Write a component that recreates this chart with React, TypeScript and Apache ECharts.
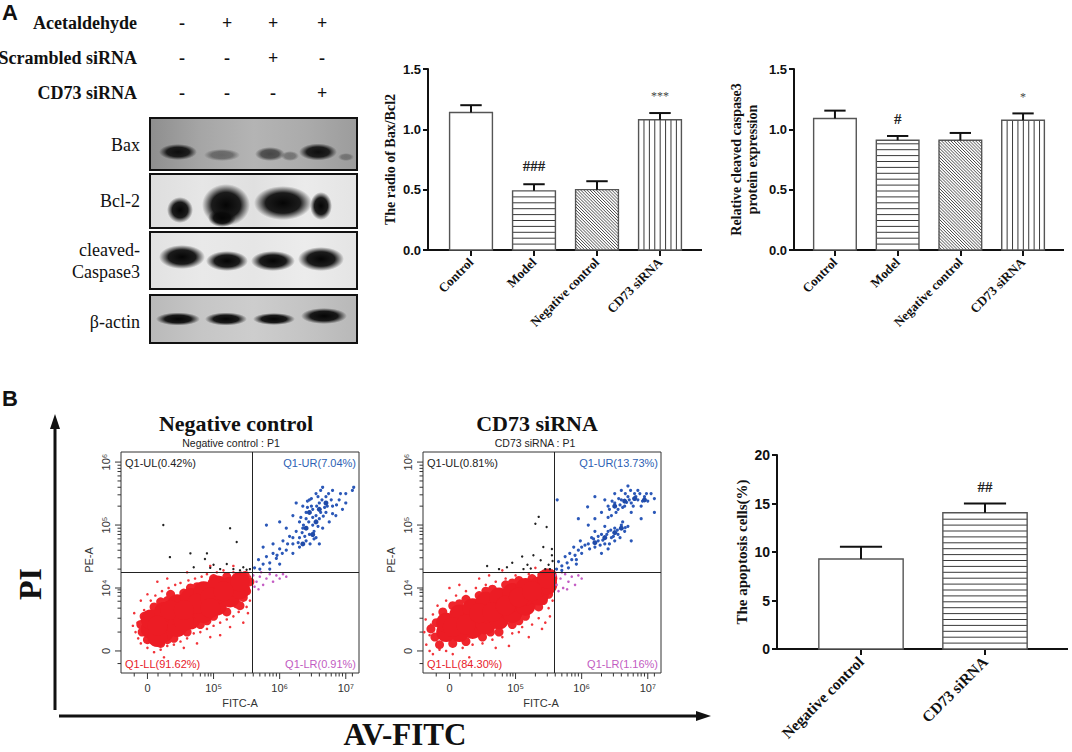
import React, { useEffect, useRef } from "react";
import * as echarts from "echarts";

const SERIF = '"Liberation Serif", "Times New Roman", serif';
const SANS = '"Liberation Sans", Arial, sans-serif';

// ---------- Panel A : western blot header ----------
const TREATMENTS = ["Acetaldehyde", "Scrambled siRNA", "CD73 siRNA"];
const TREATMENT_SIGNS = [
  ["-", "+", "+", "+"],
  ["-", "-", "+", "-"],
  ["-", "-", "-", "+"],
];
const BLOT_PROTEINS = ["Bax", "Bcl-2", "cleaved-\nCaspase3", "β-actin"];

// ---------- Panel A : bar charts ----------
const A_CATEGORIES = ["Control", "Model", "Negative control", "CD73 siRNA"];
const A_PATTERNS = ["open", "horizontal", "diagonal", "vertical"];

const BAX_BCL2_RATIO = [1.14, 0.49, 0.5, 1.08];
const BAX_BCL2_SEM = [0.06, 0.055, 0.07, 0.055];
const BAX_BCL2_SIG = ["", "###", "", "***"];
const BAX_BCL2_SIG_AT = [0, 0.7, 0, 1.28];

const CASP3_EXPR = [1.09, 0.91, 0.91, 1.075];
const CASP3_SEM = [0.065, 0.035, 0.06, 0.057];
const CASP3_SIG = ["", "#", "", "*"];
const CASP3_SIG_AT = [0, 1.085, 0, 1.27];

// ---------- Panel B : bar chart ----------
const B_CATEGORIES = ["Negative control", "CD73 siRNA"];
const B_PATTERNS = ["open", "horizontal"];
const APOPTOSIS = [9.28, 14.05];
const APOPTOSIS_SEM = [1.27, 0.95];
const APOPTOSIS_SIG = ["", "##"];
const APOPTOSIS_SIG_AT = [0, 16.7];

// ---------- Panel B : flow cytometry (display units: decades) ----------
const FLOW_X_MAJOR = [0, 1, 2, 3];
const FLOW_X_LABELS = ["0", "10⁵", "10⁶", "10⁷"];
const FLOW_Y_MAJOR = [0, 1, 2, 3];
const FLOW_Y_LABELS = ["0", "10⁴", "10⁵", "10⁶"];
const FLOW_X_MINOR = [-0.2, 0.16, 0.34, 0.52, 0.69, 0.8, 0.87, 0.92, 0.96, 1.3, 1.48, 1.6, 1.7, 1.78, 1.85, 1.9, 1.95, 2.3, 2.48, 2.6, 2.7, 2.78, 2.85, 2.9, 2.95, 3.1];
const FLOW_Y_MINOR = [-0.2, 0.3, 0.52, 0.68, 0.79, 0.87, 0.93, 0.97, 1.3, 1.48, 1.6, 1.7, 1.78, 1.85, 1.9, 1.95, 2.3, 2.48, 2.6, 2.7, 2.78, 2.85, 2.9, 2.95];
const FLOW_X_RANGE = [-0.4, 3.2];
const FLOW_Y_RANGE = [-0.35, 3.16];
const GATE_X = 1.58;
const GATE_Y = 1.25;

const NC_QUADRANTS = ["Q1-UL(0.42%)", "Q1-UR(7.04%)", "Q1-LL(91.62%)", "Q1-LR(0.91%)"];
const CD_QUADRANTS = ["Q1-UL(0.81%)", "Q1-UR(13.73%)", "Q1-LL(84.30%)", "Q1-LR(1.16%)"];

const NC_RED_CORE = [[0.05,0.35],[0.05,0.5],[0.25,0.3],[0.25,0.48],[0.25,0.62],[0.45,0.38],[0.45,0.56],[0.45,0.74],[0.65,0.5],[0.65,0.68],[0.65,0.84],[0.85,0.6],[0.85,0.78],[0.85,0.95],[1.05,0.72],[1.05,0.9],[1.05,1.04],[1.25,0.85],[1.25,1.02],[1.4,0.98],[1.4,1.1],[0.15,0.22],[0.15,0.4],[0.35,0.65],[0.55,0.47],[0.75,0.75],[0.95,0.85],[1.15,0.95],[0.55,0.65],[0.95,0.68]];
const NC_RED_MID = [[-0.08,0.3],[-0.05,0.55],[0.1,0.7],[0.3,0.8],[0.55,0.92],[0.75,1.02],[1.0,1.15],[1.2,1.18],[1.48,1.2],[1.5,0.95],[1.35,0.75],[1.2,0.62],[1.0,0.55],[0.8,0.42],[0.6,0.3],[0.4,0.2],[0.2,0.12],[0.0,0.18],[0.35,0.9],[1.45,0.85],[-0.1,0.42],[0.2,0.78],[0.65,1.0],[1.1,1.12],[1.55,1.1],[1.4,0.72],[0.9,0.48],[0.3,0.18]];
const NC_RED_FRINGE = [[-0.18,0.3],[-0.15,0.45],[-0.14,0.2],[-0.1,0.12],[-0.05,0.65],[0.0,0.05],[0.05,0.8],[0.1,-0.02],[0.12,0.88],[0.2,0.02],[0.22,0.95],[0.3,0.08],[0.32,1.0],[0.4,0.1],[0.42,1.05],[0.5,0.15],[0.5,1.08],[0.6,0.2],[0.62,1.12],[0.7,0.28],[0.72,1.15],[0.8,0.3],[0.82,1.18],[0.9,0.35],[0.9,1.22],[1.0,0.4],[1.05,1.25],[1.1,0.45],[1.15,1.28],[1.2,0.5],[1.3,0.55],[1.3,1.25],[1.38,0.62],[1.42,1.24],[1.5,0.7],[1.55,0.8],[1.55,1.05],[1.55,1.18],[1.52,0.6],[1.25,0.38],[0.95,0.22],[0.55,0.05],[0.25,-0.1],[-0.22,0.4],[-0.2,0.6],[0.0,0.9],[0.3,1.15],[0.6,1.25],[0.95,1.35],[1.3,1.35],[1.45,0.45],[0.75,0.12],[0.15,1.1],[-0.1,0.8],[1.1,0.25]];
const NC_BLACK = [[0.24,2.0],[0.34,1.49],[0.65,1.55],[0.9,1.55],[0.87,1.46],[1.25,1.95],[1.35,1.73],[1.0,1.37],[0.7,1.33],[1.1,1.3],[1.2,1.38],[1.3,1.3],[1.4,1.28],[1.45,1.33],[1.5,1.29],[1.55,1.3],[0.95,1.32]];
const NC_BLUE = [[1.62,1.32],[1.7,1.3],[1.75,1.38],[1.68,1.45],[1.8,1.5],[1.85,1.4],[1.9,1.55],[1.95,1.47],[2.0,1.62],[1.9,1.7],[2.05,1.75],[2.1,1.6],[2.15,1.82],[2.2,1.7],[2.25,1.9],[2.3,1.65],[2.3,1.8],[2.35,1.95],[2.4,1.75],[2.4,2.1],[2.45,1.85],[2.5,2.0],[2.5,2.25],[2.55,1.8],[2.6,2.1],[2.6,2.35],[2.65,1.95],[2.7,2.2],[2.7,2.45],[2.75,2.05],[2.8,2.3],[2.85,2.15],[2.9,2.4],[2.95,2.25],[3.0,2.5],[3.1,2.55],[2.35,2.3],[2.2,2.15],[2.45,2.4],[1.8,2.0],[2.0,2.05],[2.1,1.95],[2.55,2.5],[2.65,2.6],[2.8,2.55],[1.75,1.65],[2.25,2.35],[2.4,2.2],[2.3,2.05],[2.55,2.15],[2.6,1.7],[2.2,1.55],[2.0,1.38],[1.85,1.3],[2.48,2.3],[2.42,2.28],[2.62,2.2],[2.52,1.9],[2.38,1.82],[2.68,2.28],[2.58,2.45],[3.12,2.6],[2.32,2.12],[2.44,2.05],[2.56,2.3],[2.64,2.4],[2.72,2.3],[2.78,2.4],[2.5,2.12],[2.36,2.0],[2.28,1.72],[2.46,1.7],[2.58,1.98],[2.66,2.14],[2.74,2.5],[2.86,2.32],[2.92,2.5],[2.2,1.8],[2.12,1.7],[2.04,1.55],[1.96,1.52],[2.62,2.55],[2.48,2.42],[2.52,1.78],[2.34,1.88],[2.42,2.38],[3.0,2.35],[2.8,2.18]];
const NC_BLUE_MID = [[2.45,2.2],[2.6,2.25],[2.35,1.7],[2.5,1.85],[2.7,2.35],[2.55,2.05],[2.4,1.95]];
const NC_PINK = [[1.6,1.2],[1.65,1.1],[1.7,1.18],[1.75,1.05],[1.8,1.15],[1.85,1.22],[1.9,1.1],[1.95,1.2],[2.0,1.15],[2.05,1.22],[1.62,1.02],[1.72,1.25],[2.1,1.18],[1.68,0.98]];

const CD_RED_CORE = [[-0.05,0.3],[-0.05,0.45],[0.15,0.3],[0.15,0.45],[0.15,0.58],[0.35,0.35],[0.35,0.52],[0.35,0.68],[0.55,0.42],[0.55,0.6],[0.55,0.78],[0.75,0.5],[0.75,0.68],[0.75,0.85],[0.95,0.6],[0.95,0.78],[0.95,0.92],[1.15,0.72],[1.15,0.88],[1.15,1.0],[1.35,0.88],[1.35,1.02],[1.48,1.05],[1.48,1.15],[0.05,0.38],[0.25,0.42],[0.45,0.6],[0.65,0.62],[0.85,0.72],[1.05,0.85],[1.25,0.95]];
const CD_RED_MID = [[-0.22,0.22],[-0.2,0.45],[-0.1,0.62],[0.05,0.72],[0.25,0.82],[0.45,0.88],[0.65,0.98],[0.85,1.05],[1.05,1.12],[1.25,1.15],[1.5,0.9],[1.35,0.7],[1.15,0.55],[0.95,0.42],[0.75,0.3],[0.5,0.22],[0.25,0.15],[0.05,0.12],[1.55,1.22],[-0.15,0.1],[-0.28,0.35],[0.15,0.75],[0.55,0.95],[0.95,1.08],[1.4,1.2],[1.42,0.8],[1.05,0.48],[0.62,0.3]];
const CD_RED_FRINGE = [[-0.35,0.1],[-0.3,0.25],[-0.28,0.42],[-0.25,0.58],[-0.15,0.02],[-0.05,0.0],[0.05,-0.05],[0.2,0.05],[0.35,0.1],[0.5,0.12],[0.65,0.18],[0.8,0.22],[0.95,0.28],[1.1,0.38],[1.25,0.42],[1.35,0.52],[1.5,0.68],[1.56,0.8],[1.56,1.0],[1.55,1.28],[1.45,1.27],[1.35,1.22],[1.2,1.22],[1.0,1.2],[0.85,1.15],[0.7,1.1],[0.55,1.05],[0.4,1.0],[0.25,0.95],[0.1,0.88],[-0.05,0.8],[-0.18,0.72],[0.15,1.05],[0.45,1.15],[0.8,1.28],[1.45,0.45],[0.9,0.08],[-0.3,0.0],[0.6,1.2],[1.2,0.22],[-0.38,0.3],[0.3,-0.1],[1.05,0.3],[-0.36,0.5],[0.0,1.0],[1.3,1.32],[1.4,0.35],[0.7,0.05],[-0.25,-0.05],[1.52,0.55]];
const CD_BLACK = [[1.35,2.13],[1.3,2.02],[1.47,1.97],[1.42,1.65],[1.1,1.5],[1.27,1.52],[1.38,1.44],[0.95,1.4],[0.57,1.35],[0.87,1.33],[1.18,1.37],[1.5,1.37],[1.55,1.52],[1.52,1.3],[1.56,1.43],[1.23,1.31],[1.12,1.3],[1.45,1.3],[1.55,1.62],[0.75,1.3]];
const CD_BLUE = [[1.62,1.3],[1.7,1.35],[1.65,1.42],[1.78,1.4],[1.75,1.5],[1.85,1.45],[1.82,1.55],[1.9,1.52],[1.95,1.6],[1.88,1.65],[2.0,1.55],[2.05,1.68],[1.98,1.75],[1.7,1.28],[1.8,1.32],[1.92,1.38],[2.1,1.7],[2.15,1.8],[2.2,1.65],[2.25,1.75],[2.3,1.85],[2.35,1.7],[2.4,1.9],[2.45,1.8],[2.5,1.95],[2.55,1.85],[2.6,2.0],[2.65,1.9],[2.2,1.9],[2.35,1.98],[2.5,1.75],[2.7,1.98],[2.4,1.62],[2.3,1.55],[2.3,2.2],[2.4,2.3],[2.45,2.15],[2.5,2.35],[2.55,2.25],[2.6,2.4],[2.65,2.3],[2.7,2.45],[2.75,2.35],[2.8,2.5],[2.85,2.4],[2.9,2.3],[2.95,2.45],[3.0,2.38],[3.05,2.5],[2.6,2.55],[2.7,2.62],[2.2,2.1],[2.35,2.4],[2.75,2.2],[2.85,2.55],[3.1,2.42],[2.5,2.5],[2.4,2.12],[1.63,2.4],[2.09,2.29],[1.95,2.1],[2.2,2.45],[3.1,2.2],[2.9,2.1],[2.75,1.75],[2.1,2.0],[2.42,2.25],[2.52,2.2],[2.58,2.32],[2.62,2.28],[2.68,2.36],[2.72,2.4],[2.78,2.3],[2.82,2.45],[2.88,2.5],[2.92,2.38],[2.98,2.5],[2.56,2.42],[2.46,2.38],[2.66,2.5],[2.74,2.55],[2.25,1.82],[2.32,1.76],[2.38,1.85],[2.44,1.92],[2.48,1.82],[2.54,1.92],[2.58,1.8],[2.62,2.05],[2.28,1.68],[2.18,1.78],[2.42,1.7],[2.66,1.96],[2.12,1.62],[2.0,1.65],[1.92,1.45]];
const CD_BLUE_MID = [[2.5,2.3],[2.65,2.38],[2.8,2.42],[2.35,1.8],[2.5,1.88],[2.2,1.72],[2.95,2.4],[2.6,1.95]];
const CD_PINK = [[1.6,1.2],[1.62,1.05],[1.68,1.15],[1.72,1.0],[1.75,1.22],[1.8,1.1],[1.85,1.18],[1.9,1.05],[1.95,1.2],[1.65,0.95],[1.7,1.25],[2.0,1.15],[1.78,0.98]];

// ---------- helpers ----------
const txt = (x: number, y: number, text: string, o: any = {}) => ({
  type: "text",
  x,
  y,
  z: 100,
  rotation: o.rotation || 0,
  silent: true,
  style: {
    text,
    fill: o.color || "#111",
    fontSize: o.size || 12,
    fontFamily: o.family || SERIF,
    fontWeight: o.weight || "normal",
    lineHeight: o.lineHeight,
    align: o.align || "center",
    verticalAlign: "middle",
    textAlign: o.align || "center",
    textVerticalAlign: "middle",
  },
});

const band = (cx: number, cy: number, rx: number, ry: number, a: number) => ({
  type: "circle",
  x: cx,
  y: cy,
  scaleX: rx / ry,
  scaleY: 1,
  silent: true,
  shape: { cx: 0, cy: 0, r: ry },
  style: {
    fill: {
      type: "radial",
      x: 0.5,
      y: 0.5,
      r: 0.5,
      colorStops: [
        { offset: 0, color: `rgba(5,5,5,${a})` },
        { offset: 0.6, color: `rgba(10,10,10,${a * 0.92})` },
        { offset: 1, color: "rgba(20,20,20,0)" },
      ],
    },
  },
});

const linGrad = (stops: string[]) => ({
  type: "linear",
  x: 0,
  y: 0,
  x2: 1,
  y2: 0,
  colorStops: stops.map((c, i) => ({ offset: i / (stops.length - 1), color: c })),
});

function barRenderer(patterns: string[], sigs: string[], widthRatio: number) {
  return (params: any, api: any) => {
    const i = params.dataIndex;
    const cat = api.value(0);
    const v = api.value(1);
    const err = api.value(2);
    const sigAt = api.value(3);
    const top = api.coord([cat, v]);
    const base = api.coord([cat, 0]);
    const bandW = api.size([1, 0])[0];
    const bw = bandW * widthRatio;
    const x0 = top[0] - bw / 2;
    const y0 = top[1];
    const h = base[1] - top[1];
    const hatch = { stroke: "#3a3a3a", lineWidth: 1 };
    const children: any[] = [
      { type: "rect", shape: { x: x0, y: y0, width: bw, height: h }, style: { fill: "#ffffff" } },
    ];
    const p = patterns[i];
    if (p === "horizontal") {
      for (let yy = base[1] - 5.9; yy > y0 + 1.5; yy -= 5.9)
        children.push({ type: "line", shape: { x1: x0, y1: yy, x2: x0 + bw, y2: yy }, style: hatch });
    } else if (p === "vertical") {
      for (let xx = x0 + 5.4; xx < x0 + bw - 1.5; xx += 5.4)
        children.push({ type: "line", shape: { x1: xx, y1: y0, x2: xx, y2: base[1] }, style: hatch });
    } else if (p === "diagonal") {
      const s = 3.1;
      for (let k = -h; k < bw; k += s) {
        const t0 = Math.max(0, -k);
        const t1 = Math.min(h, bw - k);
        if (t1 > t0)
          children.push({
            type: "line",
            shape: { x1: x0 + k + t0, y1: y0 + t0, x2: x0 + k + t1, y2: y0 + t1 },
            style: { stroke: "#333", lineWidth: 0.9 },
          });
      }
    }
    children.push({ type: "rect", shape: { x: x0, y: y0, width: bw, height: h }, style: { fill: "none", stroke: "#555", lineWidth: 1.4 } });
    const e = api.coord([cat, v + err]);
    children.push({ type: "line", shape: { x1: top[0], y1: y0, x2: top[0], y2: e[1] }, style: { stroke: "#111", lineWidth: 2 } });
    children.push({ type: "line", shape: { x1: top[0] - bw / 4, y1: e[1], x2: top[0] + bw / 4, y2: e[1] }, style: { stroke: "#111", lineWidth: 2 } });
    if (sigs[i]) {
      const s = api.coord([cat, sigAt]);
      const star = sigs[i].indexOf("*") >= 0;
      children.push({
        type: "text",
        x: top[0],
        y: s[1],
        style: {
          text: sigs[i],
          fill: star ? "#444" : "#222",
          fontSize: star ? 12 : 15,
          fontFamily: SERIF,
          fontWeight: star ? "normal" : "bold",
          align: "center",
          verticalAlign: "middle",
          textAlign: "center",
          textVerticalAlign: "middle",
        },
      });
    }
    return { type: "group", children };
  };
}

const xTickRenderer = (params: any, api: any) => {
  const u = api.value(0);
  const major = api.value(1) === 1;
  const idx = api.value(2);
  const p = api.coord([u, FLOW_Y_RANGE[0]]);
  const len = major ? 6 : 3.5;
  const ch: any[] = [
    { type: "line", shape: { x1: p[0], y1: p[1], x2: p[0], y2: p[1] + len }, style: { stroke: "#333", lineWidth: 1 } },
  ];
  if (major)
    ch.push({
      type: "text",
      x: p[0],
      y: p[1] + 15,
      style: { text: FLOW_X_LABELS[idx], fill: "#333", fontSize: 11, fontFamily: SANS, align: "center", verticalAlign: "middle", textAlign: "center", textVerticalAlign: "middle" },
    });
  return { type: "group", children: ch };
};

const yTickRenderer = (params: any, api: any) => {
  const u = api.value(0);
  const major = api.value(1) === 1;
  const idx = api.value(2);
  const p = api.coord([FLOW_X_RANGE[0], u]);
  const len = major ? 6 : 3.5;
  const ch: any[] = [
    { type: "line", shape: { x1: p[0] - len, y1: p[1], x2: p[0], y2: p[1] }, style: { stroke: "#333", lineWidth: 1 } },
  ];
  if (major)
    ch.push({
      type: "text",
      x: p[0] - 15,
      y: p[1],
      rotation: Math.PI / 2,
      style: { text: FLOW_Y_LABELS[idx], fill: "#333", fontSize: 11, fontFamily: SANS, align: "center", verticalAlign: "middle", textAlign: "center", textVerticalAlign: "middle" },
    });
  return { type: "group", children: ch };
};

function barYAxis(gridIndex: number, max: number, interval: number, offset: number, name: string, nameGap: number, nameSize: number, labelSize: number, decimals: number) {
  return {
    gridIndex,
    type: "value",
    min: 0,
    max,
    interval,
    offset,
    name,
    nameLocation: "middle",
    nameGap,
    nameTextStyle: { fontFamily: SERIF, fontWeight: "bold", fontSize: nameSize, color: "#111", lineHeight: 16 },
    axisLine: { show: true, lineStyle: { color: "#111", width: 2 } },
    axisTick: { show: true, length: 5, lineStyle: { color: "#111", width: 2 } },
    axisLabel: {
      formatter: (v: number) => v.toFixed(decimals),
      fontFamily: SANS,
      fontWeight: "bold",
      fontSize: labelSize,
      color: "#111",
      margin: 7,
    },
    splitLine: { show: false },
  };
}

function barXAxis(gridIndex: number, cats: string[], size: number) {
  return {
    gridIndex,
    type: "category",
    data: cats,
    axisLine: { show: false },
    axisTick: { show: true, alignWithLabel: true, length: 6, lineStyle: { color: "#111", width: 2 } },
    axisLabel: { rotate: 45, interval: 0, fontFamily: SERIF, fontWeight: "bold", fontSize: size, color: "#111", margin: 10 },
    splitLine: { show: false },
  };
}

const flowAxis = (gridIndex: number, range: number[]) => ({
  gridIndex,
  type: "value",
  min: range[0],
  max: range[1],
  axisLine: { show: false },
  axisTick: { show: false },
  axisLabel: { show: false },
  splitLine: { show: false },
});

const scat = (ai: number, data: number[][], size: number, color: string, extra: any = {}) => ({
  type: "scatter",
  xAxisIndex: ai,
  yAxisIndex: ai,
  data,
  symbolSize: size,
  itemStyle: { color, opacity: 1 },
  silent: true,
  ...extra,
});

function flowSeries(ai: number, d: any) {
  const tickData = (major: number[], minor: number[]) => [
    ...major.map((u, i) => [u, 1, i]),
    ...minor.map((u) => [u, 0, -1]),
  ];
  return [
    scat(ai, d.fringe, 2.6, "#f2343a"),
    scat(ai, d.mid, 9, "#ef252c"),
    scat(ai, d.core, 20, "#ec1c24"),
    scat(ai, d.pink, 2.6, "#c45cc4"),
    scat(ai, d.black, 2.4, "#222222"),
    scat(ai, d.blue, 3.2, "#2b58b8"),
    scat(ai, d.blueMid, 5, "#1f4aa8", {
      markLine: {
        silent: true,
        symbol: "none",
        animation: false,
        label: { show: false },
        lineStyle: { color: "#222", width: 1, type: "solid" },
        data: [{ xAxis: GATE_X }, { yAxis: GATE_Y }],
      },
    }),
    { type: "custom", xAxisIndex: ai, yAxisIndex: ai, silent: true, renderItem: xTickRenderer, data: tickData(FLOW_X_MAJOR, FLOW_X_MINOR) },
    { type: "custom", xAxisIndex: ai, yAxisIndex: ai, silent: true, renderItem: yTickRenderer, data: tickData(FLOW_Y_MAJOR, FLOW_Y_MINOR) },
  ];
}

function buildGraphics() {
  const els: any[] = [];
  // panel letters
  els.push(txt(10, 12, "A", { family: SANS, weight: "bold", size: 22 }));
  els.push(txt(10, 398, "B", { family: SANS, weight: "bold", size: 22 }));
  // treatment header
  const rowY = [23, 58, 93];
  const colX = [182, 227, 273, 322];
  TREATMENTS.forEach((t, r) => {
    els.push(txt(137, rowY[r], t, { weight: "bold", size: 18, align: "right" }));
    TREATMENT_SIGNS[r].forEach((s, c) => els.push(txt(colX[c], rowY[r], s, { weight: "bold", size: 18 })));
  });
  // blot boxes
  const boxes = [
    [118, 170, linGrad(["#8e8e8e", "#a6a6a6", "#b4b4b4", "#ababab", "#9c9c9c"])],
    [174, 228, linGrad(["#dedede", "#e6e6e6", "#e0e0e0", "#ebebeb", "#e4e4e4"])],
    [232, 289, linGrad(["#e2e2e2", "#e9e9e9", "#e6e6e6", "#ececec", "#e4e4e4"])],
    [295, 343, linGrad(["#b9b9b9", "#c6c6c6", "#cdcdcd", "#c4c4c4", "#b8b8b8"])],
  ] as any[];
  const labelY = [145, 201, 261, 322];
  boxes.forEach((b, i) => {
    els.push({ type: "rect", silent: true, shape: { x: 150, y: b[0], width: 207, height: b[1] - b[0] }, style: { fill: b[2], stroke: "none" } });
    els.push(txt(140, labelY[i], BLOT_PROTEINS[i], { size: 18, align: "right", lineHeight: 22 }));
  });
  // bands
  els.push(band(178, 152, 19, 8, 0.95), band(222, 155, 18, 6, 0.42), band(270, 154, 15, 7, 0.62), band(290, 156, 9, 5, 0.35), band(318, 152, 19, 8.5, 0.95), band(346, 157, 8, 4, 0.3));
  els.push(band(180, 210, 13, 13, 1), band(226, 205, 24, 21, 1), band(222, 218, 14, 9, 1), band(283, 203, 29, 17, 1), band(321, 206, 11, 14, 1));
  els.push(band(182, 257, 23, 12, 1), band(227, 261, 21, 10, 1), band(273, 261, 22, 10, 1), band(321, 259, 23, 12, 1));
  els.push(band(178, 319, 22, 6.5, 1), band(226, 319, 21, 6.5, 1), band(274, 319, 21, 6, 1), band(324, 316, 23, 8, 1));
  boxes.forEach((b) => {
    els.push({ type: "rect", silent: true, shape: { x: 150, y: b[0], width: 207, height: b[1] - b[0] }, style: { fill: "none", stroke: "#111", lineWidth: 2 } });
  });
  // extended x-axis lines of bar charts
  els.push({ type: "line", silent: true, shape: { x1: 427, y1: 250, x2: 702, y2: 250 }, style: { stroke: "#111", lineWidth: 2 } });
  els.push({ type: "line", silent: true, shape: { x1: 793, y1: 250, x2: 1064, y2: 250 }, style: { stroke: "#111", lineWidth: 2 } });
  els.push({ type: "line", silent: true, shape: { x1: 776, y1: 649, x2: 1068, y2: 649 }, style: { stroke: "#111", lineWidth: 2 } });
  // big arrows
  els.push({ type: "line", silent: true, shape: { x1: 55, y1: 710, x2: 55, y2: 426 }, style: { stroke: "#111", lineWidth: 3 } });
  els.push({ type: "polygon", silent: true, shape: { points: [[55, 414], [50, 429], [60, 429]] }, style: { fill: "#111" } });
  els.push({ type: "line", silent: true, shape: { x1: 59, y1: 716, x2: 698, y2: 716 }, style: { stroke: "#111", lineWidth: 3 } });
  els.push({ type: "polygon", silent: true, shape: { points: [[711, 716], [696, 711], [696, 721]] }, style: { fill: "#111" } });
  els.push(txt(30, 584, "PI", { weight: "bold", size: 32, rotation: Math.PI / 2 }));
  els.push(txt(405, 734, "AV-FITC", { weight: "bold", size: 31 }));
  // flow titles
  els.push(txt(236, 423, "Negative control", { weight: "bold", size: 22 }));
  els.push(txt(231, 443, "Negative control : P1", { family: SANS, size: 10.5, color: "#222" }));
  els.push(txt(537, 423, "CD73 siRNA", { weight: "bold", size: 22 }));
  els.push(txt(535, 443, "CD73 siRNA : P1", { family: SANS, size: 10.5, color: "#222" }));
  // flow axis names
  els.push(txt(89, 560, "PE-A", { family: SANS, size: 11, color: "#333", rotation: Math.PI / 2 }));
  els.push(txt(391, 560, "PE-A", { family: SANS, size: 11, color: "#333", rotation: Math.PI / 2 }));
  els.push(txt(240, 703, "FITC-A", { family: SANS, size: 11, color: "#333" }));
  els.push(txt(541, 703, "FITC-A", { family: SANS, size: 11, color: "#333" }));
  // quadrant labels
  const qColors = ["#222", "#2d5fb4", "#e8202a", "#c25cc2"];
  const quad = (left: number, right: number, q: string[]) => {
    els.push(txt(left, 463, q[0], { family: SANS, size: 11, color: qColors[0], align: "left" }));
    els.push(txt(right, 463, q[1], { family: SANS, size: 11, color: qColors[1], align: "right" }));
    els.push(txt(left, 664, q[2], { family: SANS, size: 11, color: qColors[2], align: "left" }));
    els.push(txt(right, 664, q[3], { family: SANS, size: 11, color: qColors[3], align: "right" }));
  };
  quad(125, 356, NC_QUADRANTS);
  quad(427, 658, CD_QUADRANTS);
  return els;
}

function buildOption() {
  return {
    animation: false,
    backgroundColor: "#ffffff",
    grid: [
      { left: 439.5, top: 69, width: 252, height: 181 },
      { left: 803.6, top: 69, width: 250.8, height: 181 },
      { left: 799, top: 455, width: 248, height: 194 },
      { left: 121, top: 452, width: 238, height: 221, show: true, borderColor: "#333", borderWidth: 1, backgroundColor: "transparent" },
      { left: 423, top: 452, width: 238, height: 221, show: true, borderColor: "#333", borderWidth: 1, backgroundColor: "transparent" },
    ],
    xAxis: [
      barXAxis(0, A_CATEGORIES, 13),
      barXAxis(1, A_CATEGORIES, 13),
      barXAxis(2, B_CATEGORIES, 15.5),
      flowAxis(3, FLOW_X_RANGE),
      flowAxis(4, FLOW_X_RANGE),
    ],
    yAxis: [
      barYAxis(0, 1.5, 0.5, 11.5, "The radio of Bax/Bcl2", 30, 14, 13, 1),
      barYAxis(1, 1.5, 0.5, 9.6, "Relative cleaved caspase3\nprotein expression", 34, 14, 13, 1),
      barYAxis(2, 20, 5, 22, "The apoptosis cells(%)", 27, 15, 14, 0),
      flowAxis(3, FLOW_Y_RANGE),
      flowAxis(4, FLOW_Y_RANGE),
    ],
    series: [
      {
        type: "custom",
        xAxisIndex: 0,
        yAxisIndex: 0,
        silent: true,
        renderItem: barRenderer(A_PATTERNS, BAX_BCL2_SIG, 0.68),
        data: BAX_BCL2_RATIO.map((v, i) => [i, v, BAX_BCL2_SEM[i], BAX_BCL2_SIG_AT[i]]),
      },
      {
        type: "custom",
        xAxisIndex: 1,
        yAxisIndex: 1,
        silent: true,
        renderItem: barRenderer(A_PATTERNS, CASP3_SIG, 0.68),
        data: CASP3_EXPR.map((v, i) => [i, v, CASP3_SEM[i], CASP3_SIG_AT[i]]),
      },
      {
        type: "custom",
        xAxisIndex: 2,
        yAxisIndex: 2,
        silent: true,
        renderItem: barRenderer(B_PATTERNS, APOPTOSIS_SIG, 0.68),
        data: APOPTOSIS.map((v, i) => [i, v, APOPTOSIS_SEM[i], APOPTOSIS_SIG_AT[i]]),
      },
      ...flowSeries(3, { core: NC_RED_CORE, mid: NC_RED_MID, fringe: NC_RED_FRINGE, black: NC_BLACK, blue: NC_BLUE, blueMid: NC_BLUE_MID, pink: NC_PINK }),
      ...flowSeries(4, { core: CD_RED_CORE, mid: CD_RED_MID, fringe: CD_RED_FRINGE, black: CD_BLACK, blue: CD_BLUE, blueMid: CD_BLUE_MID, pink: CD_PINK }),
    ],
    graphic: { elements: buildGraphics() },
  };
}

export default function App() {
  const ref = useRef<HTMLDivElement>(null);
  useEffect(() => {
    document.body.style.margin = "0";
    const chart = echarts.init(ref.current as HTMLDivElement, undefined, { renderer: "svg" });
    chart.setOption(buildOption() as any);
    return () => chart.dispose();
  }, []);
  return <div ref={ref} style={{ width: 1072, height: 752, background: "#fff" }} />;
}
